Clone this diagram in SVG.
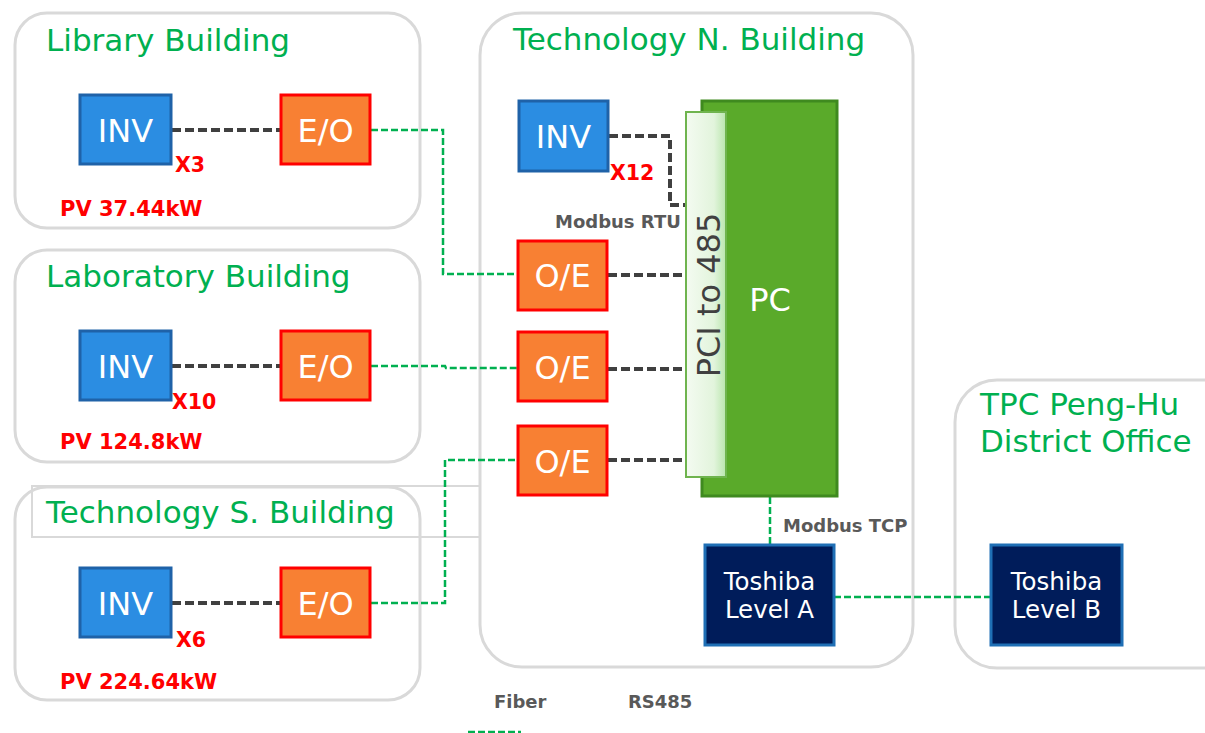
<svg xmlns="http://www.w3.org/2000/svg" width="1205" height="733" viewBox="0 0 1205 733">
<defs>
<linearGradient id="pciGrad" x1="0" y1="0" x2="1" y2="0">
<stop offset="0" stop-color="#f4fbf1"/>
<stop offset="0.7" stop-color="#e2f4dc"/>
<stop offset="1" stop-color="#b9e6ad"/>
</linearGradient>
<style>
.bld{fill:#ffffff;stroke:#d9d9d9;stroke-width:3}
.title{font-family:"DejaVu Sans",Verdana,sans-serif;font-size:31px;fill:#00b050}
.inv{fill:#2b8de2;stroke:#1f62a8;stroke-width:3}
.eo{fill:#f88033;stroke:#ff0000;stroke-width:3}
.tosh{fill:#001c5a;stroke:#1f6fb5;stroke-width:3}
.wt{font-family:"DejaVu Sans",Verdana,sans-serif;font-size:32px;fill:#ffffff;text-anchor:middle}
.wt2{font-family:"DejaVu Sans",Verdana,sans-serif;font-size:24.5px;fill:#ffffff;text-anchor:middle}
.red{font-family:"DejaVu Sans",Verdana,sans-serif;font-weight:bold;fill:#ff0000}
.gray{font-family:"DejaVu Sans",Verdana,sans-serif;font-weight:bold;font-size:18px;fill:#595959}
.rs{fill:none;stroke:#404040;stroke-width:4;stroke-dasharray:9 4}
.fib{fill:none;stroke:#00b050;stroke-width:2.5;stroke-dasharray:7 3}
</style>
</defs>

<g id="library-building">
<rect class="bld" x="15" y="13" width="405" height="215" rx="32"/>
<text class="title" x="46" y="51">Library Building</text>
</g>
<g id="laboratory-building">
<rect class="bld" x="15" y="250" width="405" height="212" rx="32"/>
<text class="title" x="46" y="287">Laboratory Building</text>
</g>
<g id="technology-s-building">
<rect class="bld" x="15" y="487" width="405" height="213" rx="32"/>
<rect x="32" y="486" width="475" height="51" fill="none" stroke="#d9d9d9" stroke-width="2"/>
<text class="title" x="46" y="523">Technology S. Building</text>
</g>
<g id="technology-n-building">
<rect class="bld" x="480" y="13" width="433" height="654" rx="42"/>
<text class="title" x="513" y="50">Technology N. Building</text>
</g>
<g id="tpc-district-office">
<rect class="bld" x="955" y="380" width="290" height="288" rx="42"/>
<text class="title" x="980" y="415">TPC Peng-Hu</text>
<text class="title" x="980" y="452">District Office</text>
</g>

<g id="connectors">
<path class="rs" d="M172 130 H280"/>
<path class="rs" d="M172 366 H280"/>
<path class="rs" d="M172 603 H280"/>
<path class="rs" d="M609 136 H670 V205 H686"/>
<path class="rs" d="M608 275 H686"/>
<path class="rs" d="M608 369 H686"/>
<path class="rs" d="M608 460 H686"/>
<path class="fib" d="M371 130 H443 V274 H517"/>
<path class="fib" d="M371 366 H445 L446 368 H517"/>
<path class="fib" d="M371 603 H445 V460 H517"/>
<path class="fib" d="M770 497 V545" stroke-width="4" stroke-dasharray="6 3"/>
<path class="fib" d="M834 597 H990"/>
</g>

<g id="inv-library">
<rect class="inv" x="80" y="95" width="91" height="69"/>
<text class="wt" x="125.5" y="142">INV</text>
<text class="red" x="175" y="172" font-size="20.5">X3</text>
<text class="red" x="60" y="216" font-size="21">PV 37.44kW</text>
</g>
<g id="eo-library">
<rect class="eo" x="281" y="95" width="89" height="69"/>
<text class="wt" x="325.5" y="142">E/O</text>
</g>
<g id="inv-laboratory">
<rect class="inv" x="80" y="331" width="91" height="69"/>
<text class="wt" x="125.5" y="378">INV</text>
<text class="red" x="172" y="409" font-size="20.5">X10</text>
<text class="red" x="60" y="449" font-size="21">PV 124.8kW</text>
</g>
<g id="eo-laboratory">
<rect class="eo" x="281" y="331" width="89" height="69"/>
<text class="wt" x="325.5" y="378">E/O</text>
</g>
<g id="inv-tech-s">
<rect class="inv" x="80" y="568" width="91" height="69"/>
<text class="wt" x="125.5" y="615">INV</text>
<text class="red" x="176" y="647" font-size="20.5">X6</text>
<text class="red" x="60" y="689" font-size="21">PV 224.64kW</text>
</g>
<g id="eo-tech-s">
<rect class="eo" x="281" y="568" width="89" height="69"/>
<text class="wt" x="325.5" y="615">E/O</text>
</g>

<g id="inv-tech-n">
<rect class="inv" x="519" y="101" width="89" height="70"/>
<text class="wt" x="563.5" y="148">INV</text>
<text class="red" x="610" y="180" font-size="20.5">X12</text>
<text class="gray" x="555" y="228">Modbus RTU</text>
</g>
<g id="oe-1">
<rect class="eo" x="518" y="241" width="89" height="69"/>
<text class="wt" x="562.5" y="287">O/E</text>
</g>
<g id="oe-2">
<rect class="eo" x="518" y="332" width="89" height="69"/>
<text class="wt" x="562.5" y="379">O/E</text>
</g>
<g id="oe-3">
<rect class="eo" x="518" y="426" width="89" height="69"/>
<text class="wt" x="562.5" y="473">O/E</text>
</g>
<g id="pc">
<rect x="702" y="101" width="135" height="395" fill="#5aaa2a" stroke="#3f8a1f" stroke-width="3"/>
<text class="wt" x="770" y="311" font-size="31">PC</text>
</g>
<g id="pci-to-485">
<rect x="686" y="112" width="40" height="365" fill="url(#pciGrad)" stroke="#6fb44e" stroke-width="2"/>
<text x="0" y="0" transform="translate(720 295) rotate(-90)" font-family="'DejaVu Sans',Verdana,sans-serif" font-size="32" fill="#404040" text-anchor="middle">PCI to 485</text>
</g>
<g id="toshiba-a">
<rect class="tosh" x="705" y="545" width="129" height="100"/>
<text class="wt2" x="769.5" y="590">Toshiba</text>
<text class="wt2" x="769.5" y="618">Level A</text>
<text class="gray" x="783" y="532">Modbus TCP</text>
</g>
<g id="toshiba-b">
<rect class="tosh" x="991" y="545" width="131" height="100"/>
<text class="wt2" x="1056.5" y="590">Toshiba</text>
<text class="wt2" x="1056.5" y="618">Level B</text>
</g>

<g id="legend">
<text class="gray" x="494" y="708" font-size="19.5">Fiber</text>
<text class="gray" x="628" y="708" font-size="19.5">RS485</text>
<path class="fib" d="M468 732 H521" stroke-width="3"/>
</g>
</svg>
